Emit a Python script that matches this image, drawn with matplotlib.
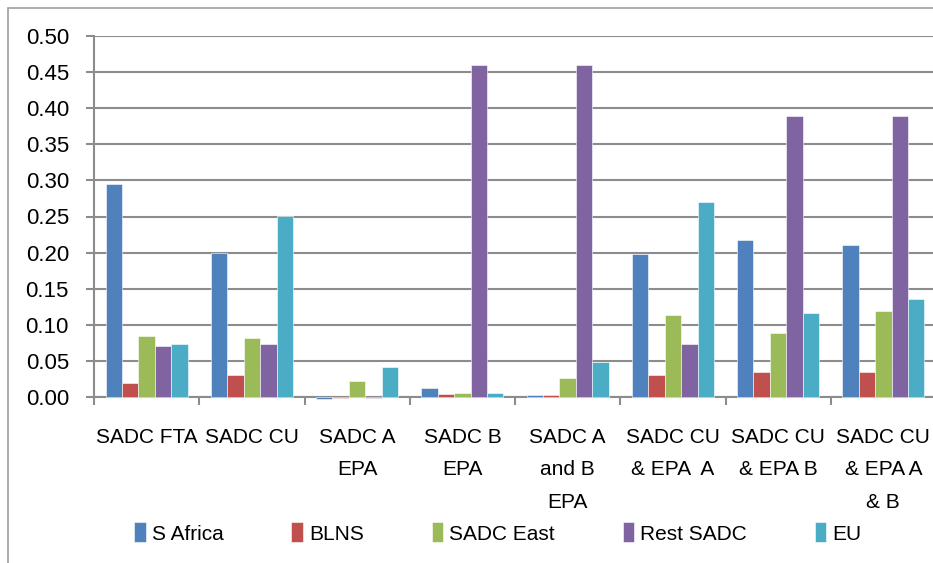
import numpy as np
import matplotlib
matplotlib.use("Agg")
import matplotlib.pyplot as plt
from matplotlib.patches import Rectangle

plt.rcParams['font.family'] = ['Liberation Sans Narrow', 'Liberation Sans', 'DejaVu Sans']

# ---------------------------------------------------------------------------
# Dados
# ---------------------------------------------------------------------------
categories = ["SADC FTA", "SADC CU", "SADC A\nEPA", "SADC B\nEPA", "SADC A\nand B\nEPA",
              "SADC CU\n& EPA  A", "SADC CU\n& EPA B", "SADC CU\n& EPA A\n& B"]
series_names = ["S Africa", "BLNS", "SADC East", "Rest SADC", "EU"]

s_africa  = [0.295, 0.200, -0.003, 0.012, 0.003, 0.198, 0.217, 0.211]
blns      = [0.020, 0.030, -0.002, 0.004, 0.003, 0.030, 0.034, 0.034]
sadc_east = [0.085, 0.082, 0.022, 0.006, 0.027, 0.114, 0.088, 0.119]
rest_sadc = [0.071, 0.074, -0.002, 0.460, 0.460, 0.074, 0.389, 0.389]
eu        = [0.074, 0.251, 0.041, 0.006, 0.049, 0.270, 0.117, 0.136]

colors = ["#4F81BD", "#C0504D", "#9BBB59", "#8064A2", "#4BACC6"]
grid_gray = "#8C8C8C"

# ---------------------------------------------------------------------------
# Figura
# ---------------------------------------------------------------------------
fig = plt.figure(figsize=(9.33, 5.63), dpi=100)
ax = fig.add_axes([94 / 933, 1 - 397 / 563, 842 / 933, 361 / 563])

x = np.arange(len(categories))
width = 0.156
all_series = [s_africa, blns, sadc_east, rest_sadc, eu]
for i, (name, vals) in enumerate(zip(series_names, all_series)):
    ax.bar(x + (i - 2) * width, vals, width, color=colors[i], label=name,
           edgecolor="white", linewidth=0.4, zorder=3, clip_on=False)

ax.set_xlim(-0.5, len(categories) - 0.5)
ax.set_ylim(0, 0.5)
ax.set_yticks(np.arange(0, 0.501, 0.05))
ax.set_yticklabels([f"{v:.2f}" for v in np.arange(0, 0.501, 0.05)], fontsize=16)
ax.yaxis.grid(True, color=grid_gray, linewidth=1.5, zorder=0)
ax.tick_params(axis='y', length=6, width=1.5, color=grid_gray, pad=12)

ax.set_xticks(x)
ax.set_xticklabels(categories, fontsize=15, linespacing=1.9)
ax.set_xticks(np.arange(-0.5, len(categories)), minor=True)
ax.tick_params(axis='x', which='major', length=0, pad=22)
ax.tick_params(axis='x', which='minor', length=6, width=1.5, color=grid_gray)

for side in ['top', 'right']:
    ax.spines[side].set_visible(False)
for side in ['left', 'bottom']:
    ax.spines[side].set_color(grid_gray)
    ax.spines[side].set_linewidth(1.5)
ax.set_axisbelow(True)

ax.legend(loc='center', bbox_to_anchor=(498 / 933, 1 - 533 / 563),
          bbox_transform=fig.transFigure, ncol=5, frameon=False, fontsize=15,
          handlelength=0.55, handleheight=1.1, handletextpad=0.3, columnspacing=3.25)

# borda do gráfico
fig.patches.append(Rectangle((8 / 933, -0.05), 1.0, 1 - 8 / 563 + 0.05,
                             transform=fig.transFigure, fill=False,
                             edgecolor="#A0A0A0", linewidth=1.2))

fig.savefig("out.png", dpi=100)
